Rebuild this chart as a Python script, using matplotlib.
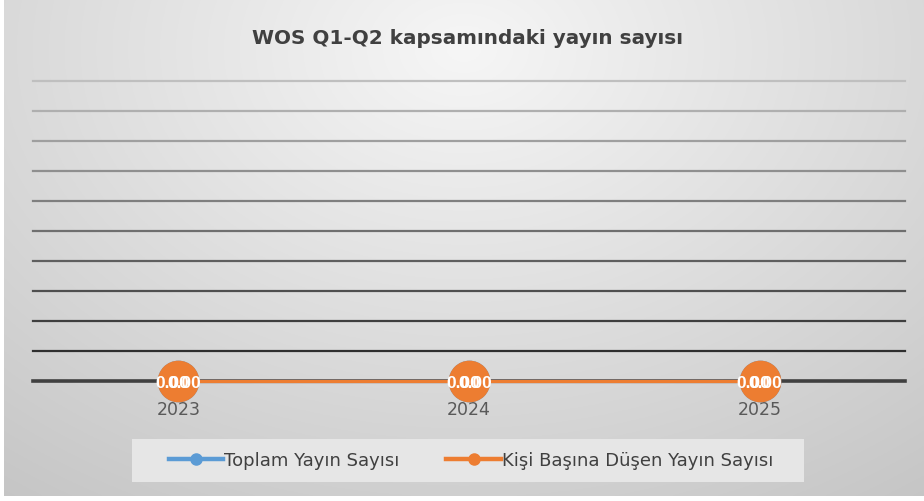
import numpy as np
import matplotlib
matplotlib.use('Agg')
import matplotlib.pyplot as plt
from matplotlib.lines import Line2D
from matplotlib.patches import Rectangle

# Data
years = ['2023', '2024', '2025']
toplam_yayin = [0, 0, 0]
kisi_basina = [0, 0, 0]
label_toplam = 'Toplam Yayın Sayısı'
label_kisi = 'Kişi Başına Düşen Yayın Sayısı'
title = 'WOS Q1-Q2 kapsamındaki yayın sayısı'
y_ticks = np.arange(0, 1.01, 0.1)

BLUE = '#5B9BD5'
ORANGE = '#ED7D31'
LABEL_FONT = ['Liberation Sans Narrow', 'Liberation Sans', 'DejaVu Sans']

W, H = 924, 502
fig = plt.figure(figsize=(W / 100, H / 100), dpi=100, facecolor='white')

# radial gray background (Excel style)
bg = fig.add_axes([4 / W, 5 / H, 1 - 4 / W, 1 - 5 / H], zorder=-5)
yy, xx = np.mgrid[0:1:300j, 0:1:600j]
r = np.sqrt(((xx - 0.5) / 0.75) ** 2 + ((yy - 0.1) / 1.0) ** 2)
r = np.clip(r / r.max(), 0, 1)
shade = 0.965 - 0.19 * r ** 1.0
bg.imshow(np.dstack([shade] * 3), aspect='auto', extent=[0, 1, 1, 0])
bg.set_axis_off()

ax = fig.add_axes([33 / W, (H - 382) / H, 872 / W, 300 / H])
ax.set_facecolor('none')
x = np.arange(len(years))
ax.set_xlim(-0.5, len(years) - 0.5)
ax.set_ylim(0, 1)

# gridlines, darker toward the bottom
for yv in y_ticks[1:]:
    g = 0.12 + 0.63 * yv
    ax.axhline(yv, color=str(g), lw=1.6, zorder=1, clip_on=False)
ax.axhline(0, color='#404040', lw=2.6, zorder=2, clip_on=False)

for s in ax.spines.values():
    s.set_visible(False)
ax.set_yticks([])
ax.set_xticks(x)
ax.set_xticklabels(years, fontsize=12.5, color='#595959')
ax.tick_params(axis='x', length=0, pad=14)

ax.plot(x, toplam_yayin, color=BLUE, lw=2.4, marker='o', ms=29,
        zorder=3, clip_on=False)
ax.plot(x, kisi_basina, color=ORANGE, lw=2.4, marker='o', ms=29,
        zorder=4, clip_on=False)

# data labels of both series sit on top of each other
for xi, v1, v2 in zip(x, toplam_yayin, kisi_basina):
    ax.annotate(f'{v1:.2f}', (xi, v1), xytext=(-4.3, -1), textcoords='offset points',
                ha='center', va='center', color='white', fontsize=12.5,
                fontweight='bold', family=LABEL_FONT, zorder=6,
                annotation_clip=False)
    ax.annotate(f'{v2:.2f}', (xi, v2), xytext=(4.3, -1), textcoords='offset points',
                ha='center', va='center', color='white', fontsize=12.5,
                fontweight='bold', family=LABEL_FONT, zorder=6,
                annotation_clip=False)

fig.text(467 / W, 1 - 38 / H, title, ha='center', va='center',
         fontsize=14.4, fontweight='bold', color='#404040')

# legend box
fig.patches.append(Rectangle((132 / W, 1 - 483 / H), 672 / W, 43 / H,
                             transform=fig.transFigure, facecolor='#e6e6e6',
                             edgecolor='none', zorder=0))
handles = [
    Line2D([0], [0], color=BLUE, lw=3.2, marker='o', ms=8),
    Line2D([0], [0], color=ORANGE, lw=3.2, marker='o', ms=8),
]
leg = fig.legend(handles, [label_toplam, label_kisi], loc='center',
                 bbox_to_anchor=(471 / W, 1 - 461 / H), ncol=2,
                 fontsize=13, frameon=False,
                 handlelength=3.0, handletextpad=0.05, columnspacing=2.6)
for t in leg.get_texts():
    t.set_color('#404040')

fig.savefig('out.png', dpi=100)
